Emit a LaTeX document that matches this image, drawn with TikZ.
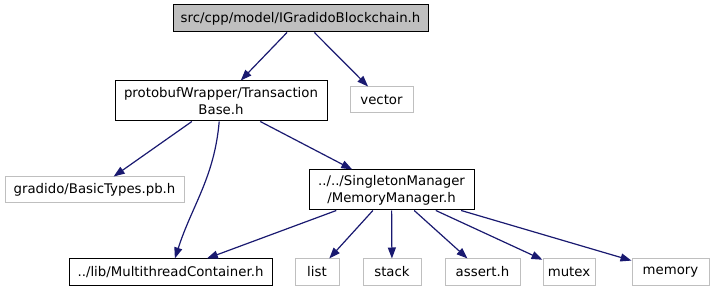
\documentclass[tikz,border=0pt]{standalone}
\usepackage{fontspec}
\setmainfont{DejaVu Sans}
\usetikzlibrary{arrows.meta}
\definecolor{edgeblue}{HTML}{191970}
\definecolor{topgrey}{HTML}{BFBFBF}
\begin{document}
\begin{tikzpicture}[x=1pt,y=-1pt,
		every node/.style={font=\fontsize{13.3}{17}\selectfont,inner sep=0pt,align=center},
		doc/.style={draw=black,line width=1pt,fill=white},
		ext/.style={draw=topgrey,line width=1pt,fill=white,minimum height=26pt},
		dep/.style={draw=edgeblue,line width=1.2pt,-{Triangle[length=11pt,width=8pt]}}]
		    \useasboundingbox (0,0) rectangle (715,291);
		    \node[doc,fill=topgrey,minimum width=255pt,minimum height=27pt](igb) at (300.5,18.5){src/cpp/model/IGradidoBlockchain.h};
		    \node[doc,minimum width=212pt,minimum height=40pt](tb) at (221,101){protobufWrapper/Transaction\\Base.h};
		    \node[ext,minimum width=63pt](vec) at (381.5,100){vector};
		    \node[ext,minimum width=179pt](bt) at (94.5,190){gradido/BasicTypes.pb.h};
		    \node[doc,minimum width=165pt,minimum height=40pt](mm) at (391.5,190){../../SingletonManager\\/MemoryManager.h};
		    \node[doc,minimum width=203pt,minimum height=26pt](mtc) at (170.5,272){../lib/MultithreadContainer.h};
		    \node[ext,minimum width=44pt](lst) at (317,272){list};
		    \node[ext,minimum width=58pt](stk) at (392,272){stack};
		    \node[ext,minimum width=75pt](ast) at (482.5,272){assert.h};
		    \node[ext,minimum width=52pt](mtx) at (569,272){mutex};
		    \node[ext,minimum width=77pt](mem) at (670.5,272){memory};
		    \draw[dep](igb)--(tb);
		    \draw[dep](igb)--(vec);
		    \draw[dep](tb)--(bt);
		    \draw[dep](tb) to[out=-95,in=72] (mtc);
		    \draw[dep](tb)--(mm);
		    \draw[dep](mm)--(mtc);
		    \draw[dep](mm)--(lst);
		    \draw[dep](mm)--(stk);
		    \draw[dep](mm)--(ast);
		    \draw[dep](mm)--(mtx);
		    \draw[dep](mm)--(mem);
		\end{tikzpicture}
\end{document}
